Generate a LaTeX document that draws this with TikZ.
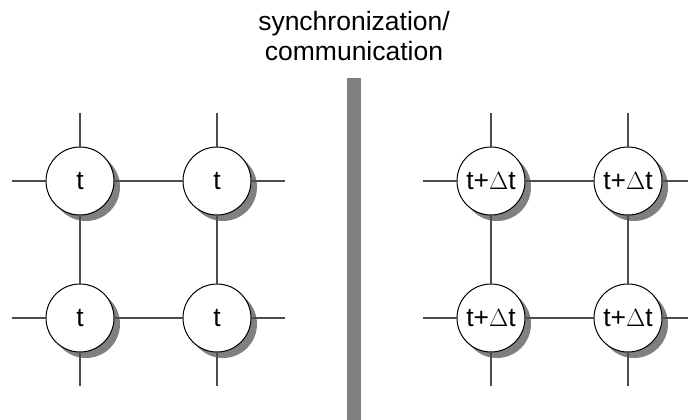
\documentclass[tikz,border=0pt]{standalone}
\usepackage{fontspec}
\setmainfont{Liberation Sans}
\usetikzlibrary{shadows}
\begin{document}
\begin{tikzpicture}[x=1pt,y=-1pt,
  proc/.style={circle,draw=black,line width=1pt,fill=white,minimum size=68pt,inner sep=0pt,
    font=\fontsize{26.5}{30}\selectfont,
    drop shadow={shadow xshift=6pt,shadow yshift=-6pt,fill=black!50,opacity=1}},
  link/.style={draw=black!70,line width=1.1pt},
  barstyle/.style={fill=black!50,draw=none}]
\useasboundingbox (0,0) rectangle (688,420);
\fill[white] (0,0) rectangle (688,420);
% labels
\node[font=\fontsize{26.5}{30}\selectfont,align=center] (lab) at (354,36) {synchronization/\\communication};
% bar
\path[barstyle] (347,78) rectangle (361,420);
% left grid
\node[proc] (a) at (80,181) {t};
\node[proc] (b) at (217,181) {t};
\node[proc] (c) at (80,318) {t};
\node[proc] (d) at (217,318) {t};
% right grid
\node[proc] (e) at (491,181) {t+$\Delta$t};
\node[proc] (f) at (628,181) {t+$\Delta$t};
\node[proc] (g) at (491,318) {t+$\Delta$t};
\node[proc] (h) at (628,318) {t+$\Delta$t};
% free ends
\coordinate (at) at (80,113); \coordinate (al) at (12,181);
\coordinate (bt) at (217,113); \coordinate (br) at (285,181);
\coordinate (cb) at (80,386); \coordinate (cl) at (12,318);
\coordinate (db) at (217,386); \coordinate (dr) at (285,318);
\coordinate (et) at (491,113); \coordinate (el) at (423,181);
\coordinate (ft) at (628,113); \coordinate (fr) at (688,181);
\coordinate (gb) at (491,386); \coordinate (gl) at (423,318);
\coordinate (hb) at (628,386); \coordinate (hr) at (688,318);
% connectors
\path[link] (a) -- (b) (c) -- (d) (a) -- (c) (b) -- (d);
\path[link] (e) -- (f) (g) -- (h) (e) -- (g) (f) -- (h);
\path[link] (a) -- (at) (a) -- (al) (b) -- (bt) (b) -- (br)
  (c) -- (cb) (c) -- (cl) (d) -- (db) (d) -- (dr);
\path[link] (e) -- (et) (e) -- (el) (f) -- (ft) (f) -- (fr)
  (g) -- (gb) (g) -- (gl) (h) -- (hb) (h) -- (hr);
\end{tikzpicture}
\end{document}
